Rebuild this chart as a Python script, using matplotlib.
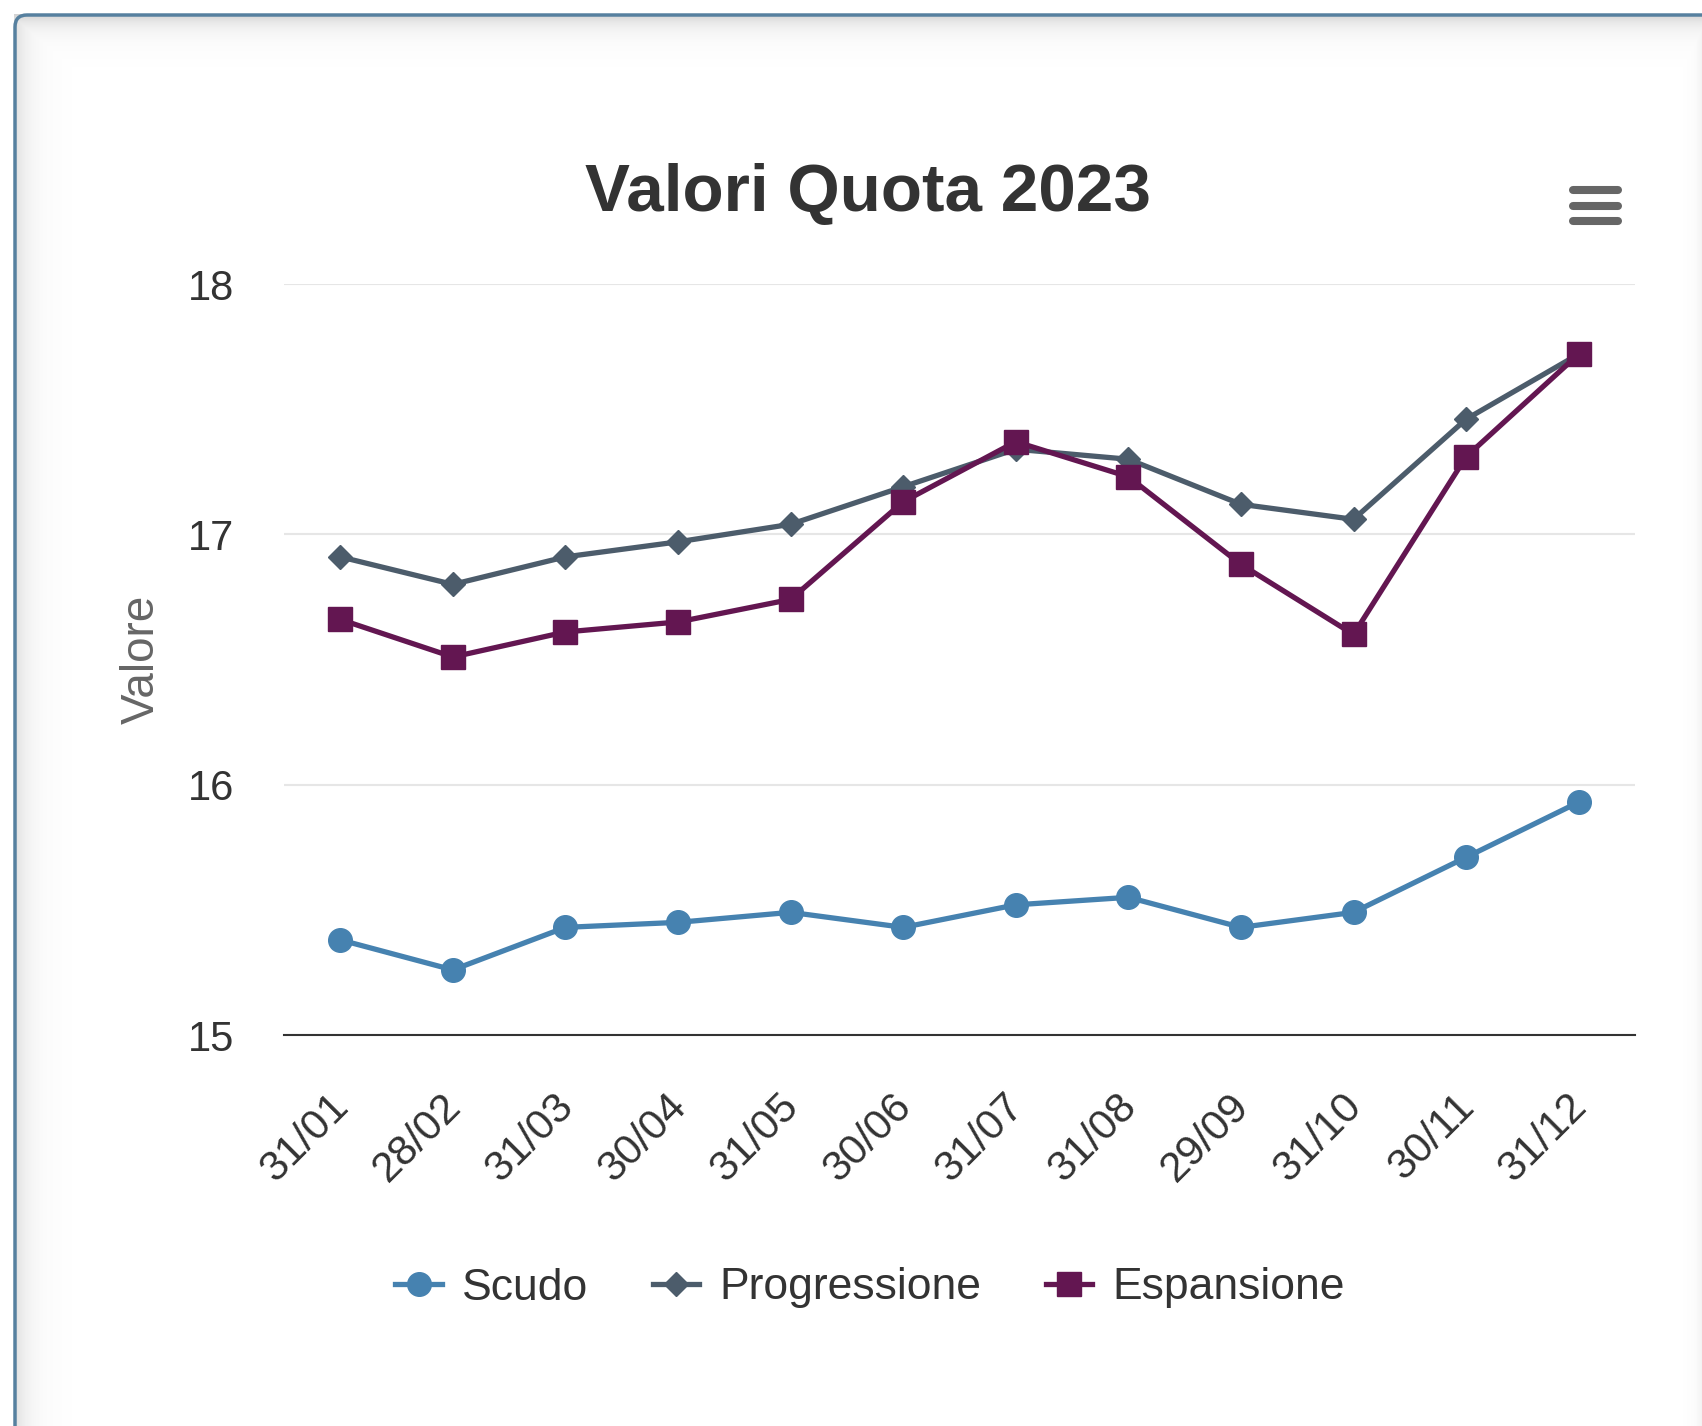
import numpy as np
import matplotlib
matplotlib.use("Agg")
import matplotlib.pyplot as plt
from matplotlib.patches import FancyBboxPatch
from matplotlib.lines import Line2D
import matplotlib.transforms as mtransforms

plt.rcParams['font.family'] = ['Liberation Sans', 'DejaVu Sans']

dates = ['31/01', '28/02', '31/03', '30/04', '31/05', '30/06',
         '31/07', '31/08', '29/09', '31/10', '30/11', '31/12']
scudo = [15.38, 15.26, 15.43, 15.45, 15.49, 15.43, 15.52, 15.55, 15.43, 15.49, 15.71, 15.93]
progressione = [16.91, 16.80, 16.91, 16.97, 17.04, 17.19, 17.34, 17.30, 17.12, 17.06, 17.46, 17.72]
espansione = [16.66, 16.51, 16.61, 16.65, 16.74, 17.13, 17.37, 17.23, 16.88, 16.60, 17.31, 17.72]
y_ticks = [15, 16, 17, 18]

W, H = 1702, 1426
fig = plt.figure(figsize=(W / 100, H / 100), dpi=100)
fig.patch.set_facecolor('white')

# inner shadow of the card (top and left edges)
yy, xx = np.mgrid[0:H, 0:W]
alpha = np.maximum(0.32 * np.exp(-(yy - 14) / 12.0), 0.24 * np.exp(-(xx - 14) / 14.0))
alpha = np.maximum(alpha, 0.10 * np.exp(-(W - xx) / 6.0))
alpha[(yy < 14) | (xx < 14)] = 0
shade = np.zeros((H, W, 4))
shade[..., :3] = 0.45
shade[..., 3] = alpha
fig.figimage(shade[::-1], xo=0, yo=0, origin='lower', zorder=0)

card = FancyBboxPatch((0.15, -1.0), 18.5, 14.26 - 0.15 + 1.0,
                      boxstyle="round,pad=0,rounding_size=0.12",
                      transform=fig.dpi_scale_trans, facecolor='none',
                      edgecolor='#56809f', linewidth=2.5, zorder=1)
fig.patches.append(card)

# menu icon
for yb in [12.36, 12.20, 12.05]:
    fig.lines.append(Line2D([15.73, 16.18], [yb, yb], transform=fig.dpi_scale_trans,
                            color='#666666', linewidth=5.8, solid_capstyle='round', zorder=2))

ax = fig.add_axes([284 / W, 1 - 1035 / H, (1635 - 284) / W, (1035 - 284) / H])
ax.set_facecolor('none')
x = np.arange(len(dates))

ax.plot(x, scudo, color='#4682b0', linewidth=3.8, marker='o', markersize=17, label='Scudo', zorder=3)
ax.plot(x, progressione, color='#4c5c6b', linewidth=3.8, marker='D', markersize=12.5, label='Progressione', zorder=4)
ax.plot(x, espansione, color='#631651', linewidth=3.8, marker='s', markersize=17, label='Espansione', zorder=5)

ax.set_xlim(-0.5, len(dates) - 0.5)
ax.set_ylim(15, 18)
ax.set_yticks(y_ticks)
ax.set_yticklabels([str(v) for v in y_ticks])
ax.set_xticks(x)
ax.set_xticklabels(dates, rotation=45, ha='right', va='center', rotation_mode='anchor')
ax.tick_params(axis='y', length=0, pad=36, labelsize=30, labelcolor='#333333')
ax.tick_params(axis='x', length=0, pad=47, labelsize=30.5, labelcolor='#333333')
offset = mtransforms.ScaledTranslation(0.02, 0, fig.dpi_scale_trans)
for lab in ax.get_xticklabels():
    lab.set_transform(lab.get_transform() + offset)

ax.grid(axis='y', color='#e6e6e6', linewidth=1.5)
ax.set_axisbelow(True)
for s in ['top', 'right', 'left']:
    ax.spines[s].set_visible(False)
ax.spines['bottom'].set_color('#333333')
ax.spines['bottom'].set_linewidth(1.5)

ax.set_ylabel('Valore', fontsize=33, color='#666666')
ax.yaxis.set_label_coords(-0.089, 0.5)

fig.text(868 / W, 1 - 211 / H, 'Valori Quota 2023', ha='center', va='baseline',
         fontsize=48.5, fontweight='bold', color='#333333')

fig.legend(loc='center', bbox_to_anchor=(870 / W, 1 - 1288 / H), ncol=3, frameon=False,
           fontsize=32, handlelength=1.05, handletextpad=0.45, columnspacing=1.45,
           labelcolor='#333333')

fig.savefig('out.png', dpi=100)
